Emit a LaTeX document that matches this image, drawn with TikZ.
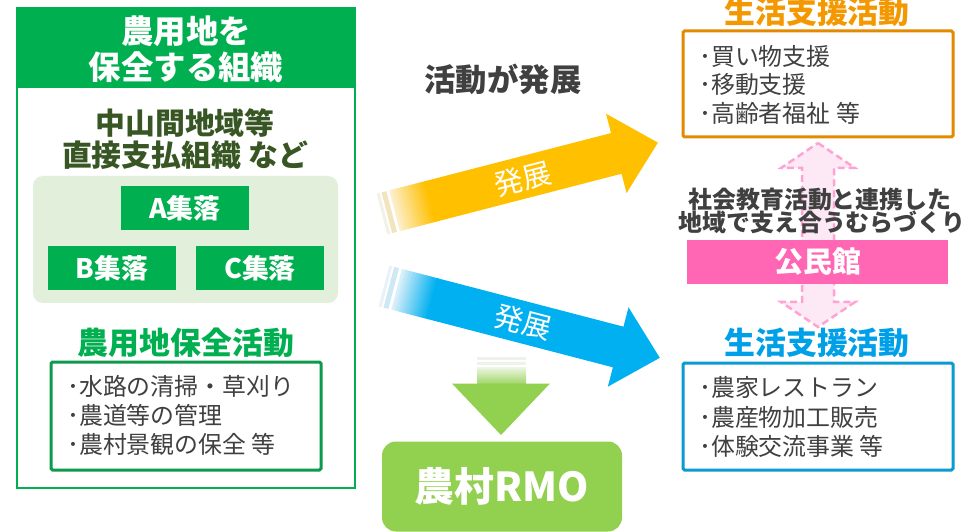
\documentclass[tikz,border=0pt]{standalone}
\usepackage{fontspec}
\setmainfont{Noto Sans CJK JP}
\definecolor{gMain}{HTML}{00B050}
\definecolor{gDark}{HTML}{0E9A4C}
\definecolor{olive}{HTML}{375623}
\definecolor{lgBg}{HTML}{E2EFDA}
\definecolor{grayT}{HTML}{404040}
\definecolor{orT}{HTML}{F39800}
\definecolor{orB}{HTML}{E38A00}
\definecolor{blT}{HTML}{00A0E9}
\definecolor{blB}{HTML}{0A9BD0}
\definecolor{pinkBar}{HTML}{FF66B3}
\definecolor{pinkLine}{HTML}{FFA3D3}
\definecolor{pinkFill}{HTML}{FDE8F6}
\definecolor{yArr}{HTML}{FFC000}
\definecolor{yPale}{HTML}{FCEFCB}
\definecolor{yStr1}{HTML}{F3F0E8}
\definecolor{yStr2}{HTML}{F3E4C0}
\definecolor{bArr}{HTML}{00B0F0}
\definecolor{bPale}{HTML}{DDF0FA}
\definecolor{bStr1}{HTML}{E8F2F8}
\definecolor{bStr2}{HTML}{CFE8F5}
\definecolor{gArr}{HTML}{92D050}
\definecolor{gPale}{HTML}{EEF6E6}
\definecolor{gStr}{HTML}{EDF3EA}
\begin{document}
\begin{tikzpicture}[x=1bp,y=-1bp,
  hdr/.style={text=white,font=\fontsize{32.5}{32.5}\bfseries\selectfont,inner sep=0},
  olv/.style={text=olive,font=\fontsize{30}{30}\bfseries\selectfont,inner sep=0},
  vill/.style={fill=gMain,text=white,font=\fontsize{27}{27}\bfseries\selectfont,inner sep=0},
  item/.style={text=grayT,font=\fontsize{24}{24}\selectfont,anchor=west,inner sep=0},
  ttl/.style={font=\fontsize{31}{31}\bfseries\selectfont,inner sep=0},
  arrtxt/.style={text=white,font=\fontsize{29}{29}\selectfont,inner sep=0},
  boxline/.style={line width=3bp,rounded corners=1.5bp}
]
\useasboundingbox (0,0) rectangle (978,532);
\fill[white] (0,0) rectangle (978,532);

% ---------- left organisation box ----------
\fill[gMain] (17,8) rectangle (355,88);
\draw[gMain,line width=2.5bp] (17,8) rectangle (355,488);
\node[hdr] (h1) at (186,31) {農用地を};
\node[hdr] (h2) at (186,67) {保全する組織};
\node[olv] (o1) at (185,123) {中山間地域等};
\node[olv] (o2) at (185,155) {直接支払組織 など};
\fill[lgBg,rounded corners=10bp] (33,176) rectangle (338,303);
\node[vill,minimum width=128bp,minimum height=44bp] (va) at (185,208) {A集落};
\node[vill,minimum width=128bp,minimum height=44bp] (vb) at (112,268) {B集落};
\node[vill,minimum width=128bp,minimum height=44bp] (vc) at (260,268) {C集落};
\node[ttl,text=gMain] (lt) at (186,343) {農用地保全活動};
\draw[gDark,boxline] (51,362) rectangle (321,470);
\node[item] (l1) at (67,386) {･水路の清掃・草刈り};
\node[item] (l2) at (67,415) {･農道等の管理};
\node[item] (l3) at (67,444) {･農村景観の保全 等};

% ---------- middle ----------
\node[text=grayT,font=\fontsize{31.5}{31.5}\bfseries\selectfont,inner sep=0] (dev) at (503,79) {活動が発展};

% yellow arrow
\begin{scope}[shift={(382,214)},rotate=14.5]
  \fill[yStr1] (0,-21) rectangle (3,21);
  \fill[yStr2] (5,-21) rectangle (10,21);
  \foreach \i in {0,...,19}{
    \pgfmathsetmacro{\p}{\i*5.26}
    \fill[yArr!\p!yPale] ({13+\i*1.9},-21) rectangle ({13+\i*1.9+2.4},21);
  }
  \fill[yArr] (50,-21) -- (242,-21) -- (242,-41) -- (285,0) -- (242,41) -- (242,21) -- (50,21) -- cycle;
  \node[arrtxt,rotate=14.5] (ya) at (145,1) {発展};
\end{scope}

% blue arrow
\begin{scope}[shift={(384,286)},rotate=-14.6]
  \fill[bStr1] (0,-21) rectangle (3,21);
  \fill[bStr2] (5,-21) rectangle (10,21);
  \foreach \i in {0,...,19}{
    \pgfmathsetmacro{\p}{\i*5.26}
    \fill[bArr!\p!bPale] ({13+\i*1.9},-21) rectangle ({13+\i*1.9+2.4},21);
  }
  \fill[bArr] (50,-21) -- (242,-21) -- (242,-41) -- (285,0) -- (242,41) -- (242,21) -- (50,21) -- cycle;
  \node[arrtxt,rotate=-14.6] (ba) at (144,0) {発展};
\end{scope}

% green down arrow
\fill[gStr] (477,357) rectangle (526,359.5);
\fill[gStr] (477,361.5) rectangle (526,365);
\shade[top color=gPale,bottom color=gArr!85!gPale] (477,367) rectangle (526,384);
\fill[gArr] (452,383.5) -- (550,383.5) -- (501,435) -- cycle;

% RMO box
\node[fill=gArr,rounded corners=14bp,minimum width=240bp,minimum height=90bp,inner sep=0] (rmo) at (502,486.5) {};
\node[text=white,font=\fontsize{40}{40}\bfseries\selectfont,inner sep=0] (rmot) at (502,486) {農村RMO};

% ---------- right ----------
\fill[pinkFill] (818,143) -- (855,168) -- (834,168) -- (834,302) -- (855,302) -- (818,327) -- (781,302) -- (802,302) -- (802,168) -- (781,168) -- cycle;
\draw[pinkLine,line width=2.5bp,dash pattern=on 7bp off 4bp,line join=miter] (818,143) -- (855,168) -- (834,168) -- (834,302) -- (855,302) -- (818,327) -- (781,302) -- (802,302) -- (802,168) -- (781,168) -- cycle;

\node[ttl,text=orT] (rt1) at (817,12) {生活支援活動};
\draw[orB,boxline] (683,31) rectangle (953,137);
\node[item] (r1) at (699,56) {･買い物支援};
\node[item] (r2) at (699,84) {･移動支援};
\node[item] (r3) at (699,113) {･高齢者福祉 等};

\node[text=grayT,font=\fontsize{24}{24}\bfseries\selectfont,inner sep=0] (s1) at (820,199) {社会教育活動と連携した};
\node[text=grayT,font=\fontsize{24}{24}\bfseries\selectfont,inner sep=0] (s2) at (822,222) {地域で支え合うむらづくり};
\node[fill=pinkBar,minimum width=261bp,minimum height=44bp,inner sep=0] (kom) at (817.5,262) {};
\node[text=white,font=\fontsize{29}{29}\bfseries\selectfont,inner sep=0] (komt) at (818,262) {公民館};

\node[ttl,text=blT] (rt2) at (817,343) {生活支援活動};
\draw[blB,boxline] (683,363) rectangle (953,470);
\node[item] (b1) at (699,387) {･農家レストラン};
\node[item] (b2) at (699,417) {･農産物加工販売};
\node[item] (b3) at (699,446) {･体験交流事業 等};
\end{tikzpicture}
\end{document}
